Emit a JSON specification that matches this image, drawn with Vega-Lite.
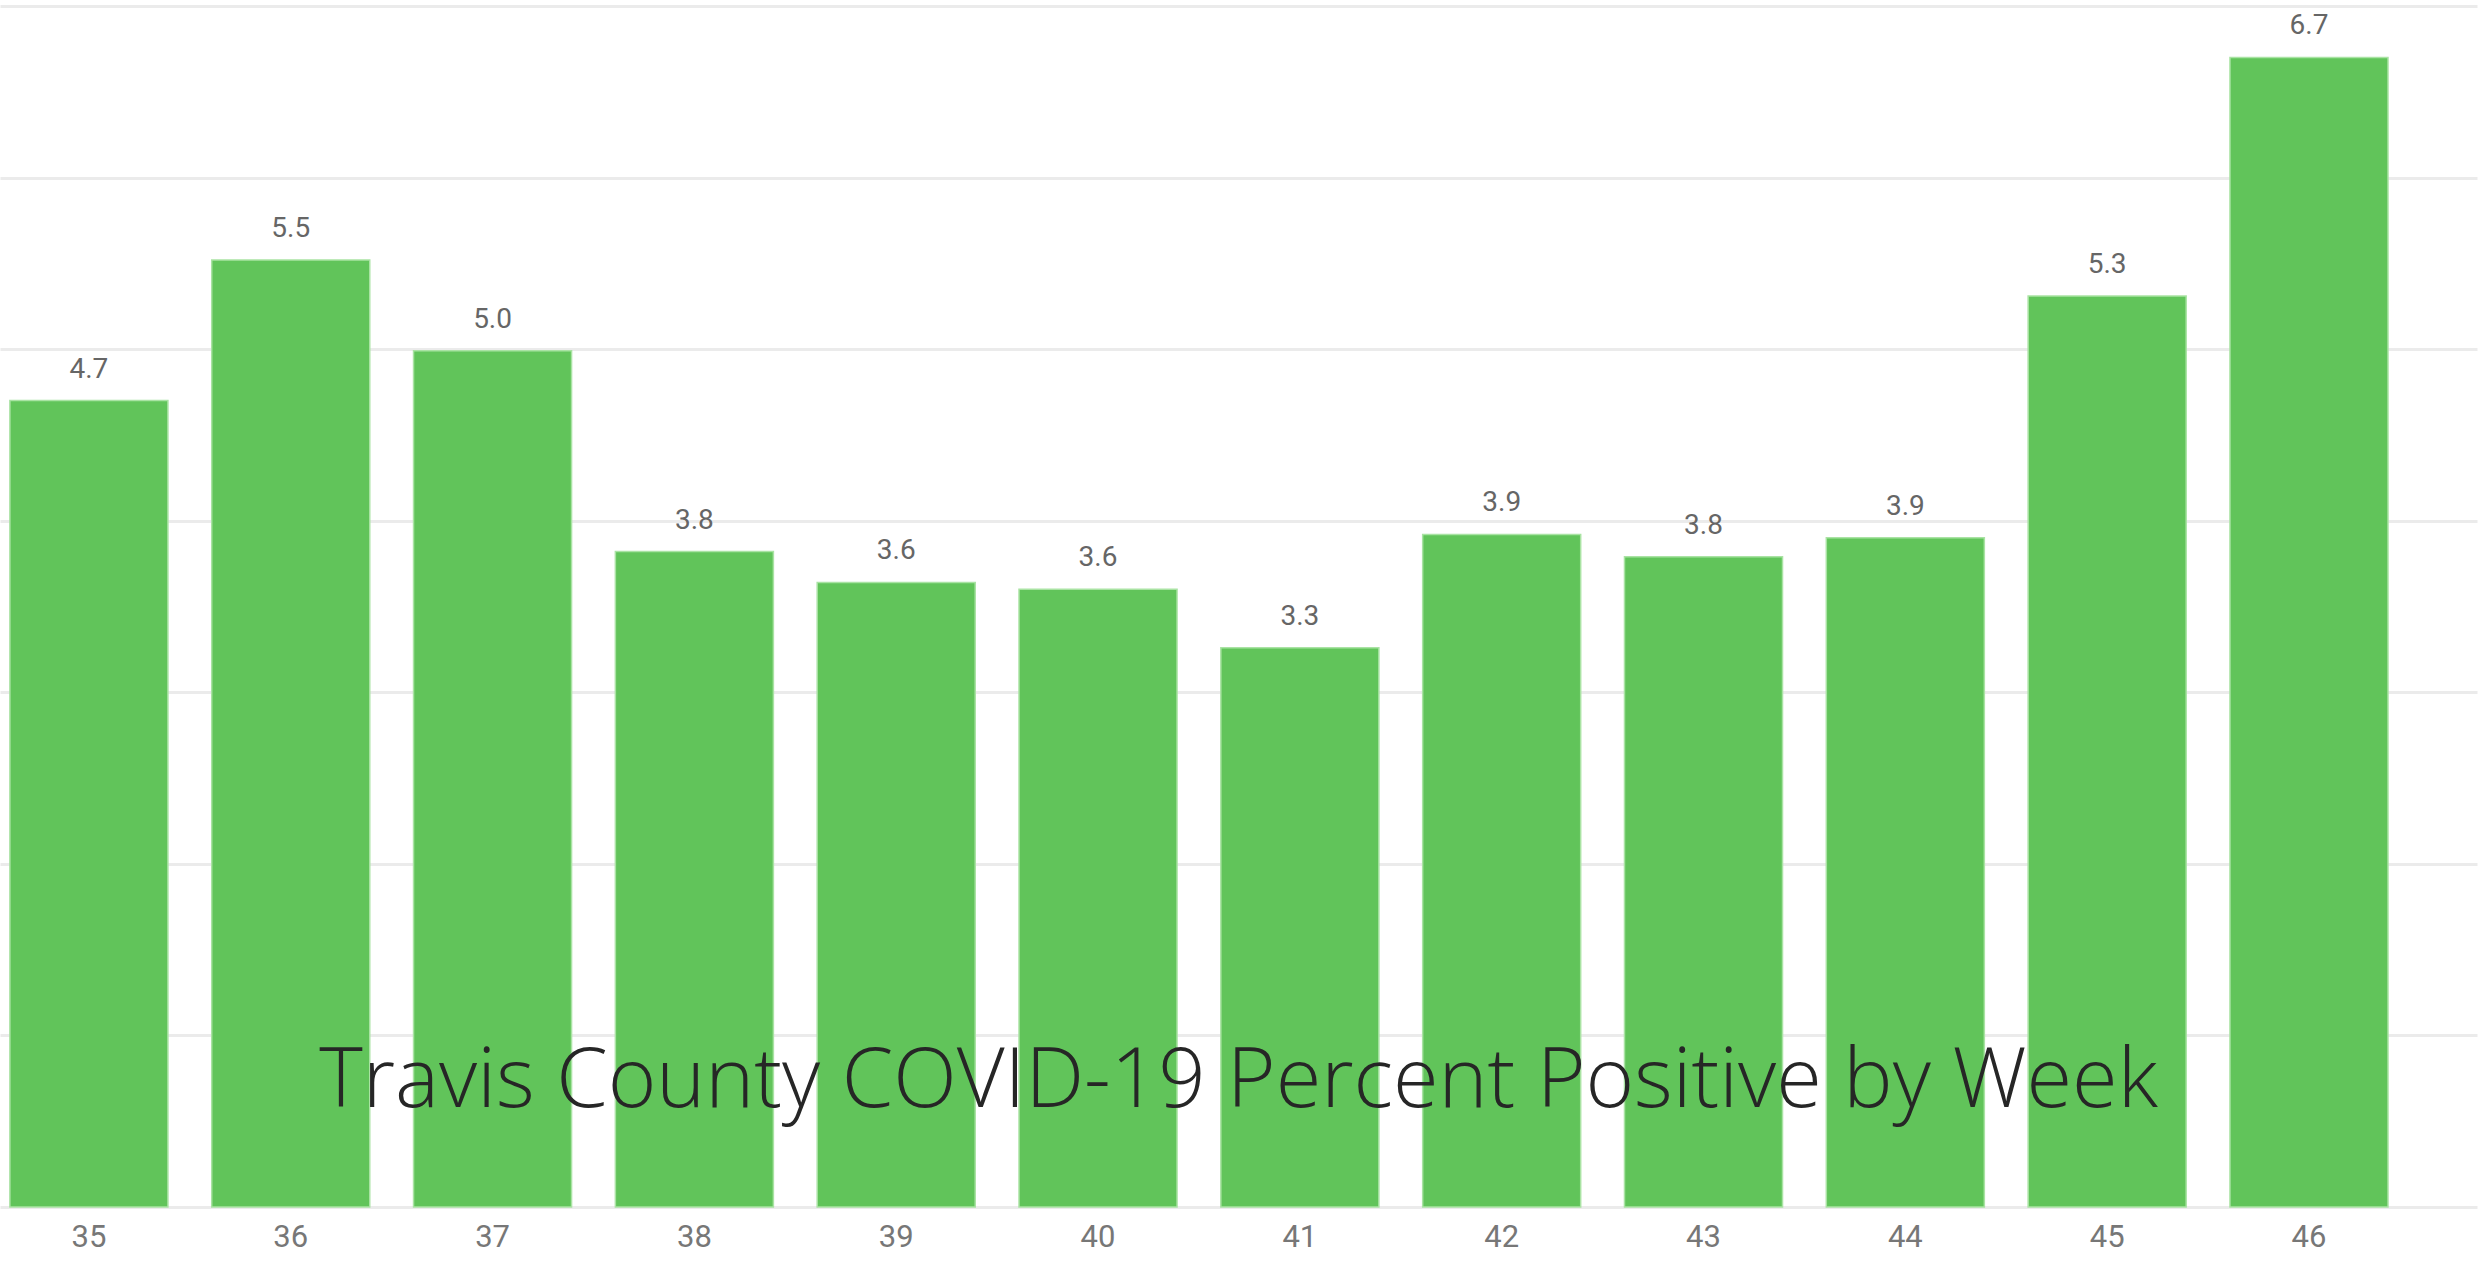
{
  "$schema": "https://vega.github.io/schema/vega-lite/v6.json",
  "autosize": {"type": "none"},
  "padding": {"left": 0, "top": 6, "right": 6, "bottom": 54},
  "width": 2477,
  "height": 1201,
  "background": "white",
  "title": {
    "text": "Travis County COVID-19 Percent Positive by Week",
    "orient": "bottom",
    "anchor": "middle",
    "offset": -211,
    "font": "Open Sans",
    "fontWeight": 300,
    "fontSize": 83,
    "color": "#262626"
  },
  "data": {
    "values": [
      {"week": "35", "pct": 4.70},
      {"week": "36", "pct": 5.52},
      {"week": "37", "pct": 4.99},
      {"week": "38", "pct": 3.82},
      {"week": "39", "pct": 3.64},
      {"week": "40", "pct": 3.60},
      {"week": "41", "pct": 3.26},
      {"week": "42", "pct": 3.92},
      {"week": "43", "pct": 3.79},
      {"week": "44", "pct": 3.90},
      {"week": "45", "pct": 5.31},
      {"week": "46", "pct": 6.70}
    ]
  },
  "encoding": {
    "x": {
      "field": "week",
      "type": "ordinal",
      "scale": {"paddingInner": 0.217, "paddingOuter": 0.245, "align": 0.1},
      "axis": {
        "title": null,
        "labelAngle": 0,
        "ticks": false,
        "domain": false,
        "labelFont": "Roboto",
        "labelFontSize": 31,
        "labelColor": "#777777",
        "labelPadding": 15
      }
    },
    "y": {
      "field": "pct",
      "type": "quantitative",
      "scale": {"domain": [0, 7], "nice": false},
      "axis": {
        "title": null,
        "labels": false,
        "ticks": false,
        "domain": false,
        "grid": true,
        "values": [0, 1, 2, 3, 4, 5, 6, 7],
        "gridColor": "#ebebeb",
        "gridWidth": 3
      }
    }
  },
  "layer": [
    {
      "mark": {"type": "bar", "color": "#61c45a", "stroke": "#a9e3a3", "strokeWidth": 1.5}
    },
    {
      "mark": {
        "type": "text",
        "baseline": "alphabetic",
        "dy": -23,
        "font": "Roboto",
        "fontSize": 28,
        "color": "#666666"
      },
      "encoding": {"text": {"field": "pct", "type": "quantitative", "format": ".1f"}}
    }
  ],
  "config": {"view": {"stroke": null}}
}
